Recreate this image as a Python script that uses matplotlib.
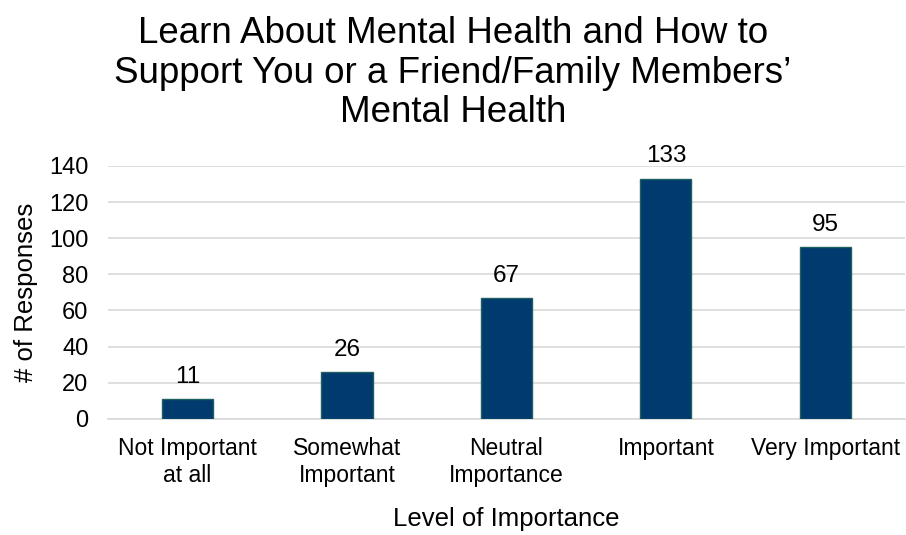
import matplotlib.pyplot as plt
import numpy as np

categories = ["Not Important\nat all", "Somewhat\nImportant", "Neutral\nImportance",
              "Important", "Very Important"]
responses = [11, 26, 67, 133, 95]
y_ticks = [0, 20, 40, 60, 80, 100, 120, 140]

plt.rcParams["font.family"] = ["Liberation Sans", "DejaVu Sans"]

fig = plt.figure(figsize=(9.06, 5.35), dpi=100)
ax = fig.add_axes([0.119, 0.217, 0.88, 0.473])

x = np.arange(len(categories))
bars = ax.bar(x, responses, width=0.32, color="#003A6E", edgecolor="#1F5F5F",
              linewidth=1, zorder=3)
for rect, v in zip(bars, responses):
    ax.annotate(str(v), (rect.get_x() + rect.get_width() / 2, v),
                xytext=(0, 8), textcoords="offset points",
                ha="center", va="bottom", fontsize=17.5)

ax.set_xlim(-0.5, len(categories) - 0.5)
ax.set_ylim(0, 140)
ax.set_yticks(y_ticks)
ax.set_xticks(x)
ax.set_xticklabels(categories, fontsize=16.5, linespacing=1.2)
ax.tick_params(axis="y", labelsize=17, length=0, pad=14)
ax.tick_params(axis="x", length=0, pad=13)
ax.yaxis.grid(True, color="#D9D9D9", linewidth=1.2, zorder=0)
for side in ["top", "right", "left"]:
    ax.spines[side].set_visible(False)
ax.spines["bottom"].set_color("#D9D9D9")
ax.spines["bottom"].set_linewidth(1.2)

ax.set_ylabel("# of Responses", fontsize=18.5, labelpad=8)
ax.set_xlabel("Level of Importance", fontsize=18.5, labelpad=15)
fig.suptitle("Learn About Mental Health and How to\nSupport You or a Friend/Family Members\u2019\nMental Health",
             fontsize=26.5, y=0.97, x=0.5, linespacing=1.17)

fig.savefig("out.png", dpi=100)
